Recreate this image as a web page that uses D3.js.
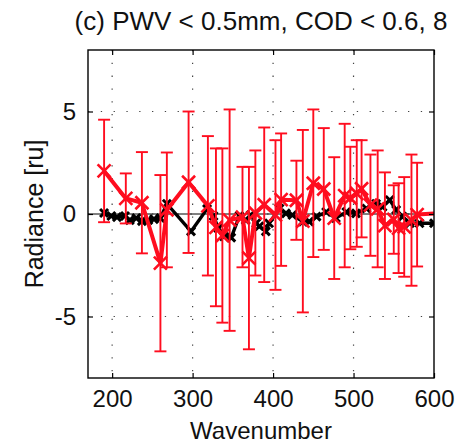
<!DOCTYPE html>
<html><head><meta charset="utf-8">
<script src="https://cdn.jsdelivr.net/npm/d3@7"></script>
<style>body{margin:0;background:#fff}</style>
</head><body>
<svg id="chart" width="457" height="445"></svg>
<script>
const titleText = "(c) PWV < 0.5mm, COD < 0.6, 8";
const xLabel = "Wavenumber";
const yLabel = "Radiance [ru]";
const xTicks = [200, 300, 400, 500, 600];
const yTicks = [-5, 0, 5];
const xDomain = [170, 600];
const yDomain = [-8, 8];

// black series (near zero)
const blackWn = [190,199,206,216,222,230,237,245,252,260,268,298,318,326,332,339,348,358,366,372,379,383,391,395,408,416,424,437,445,454,466,478,491,503,516,528,536,545,553,561,570,582,600];
const blackVal = [0.05,-0.1,-0.15,-0.1,-0.3,-0.2,-0.35,-0.3,-0.25,-0.2,0.5,-0.85,0.25,-0.1,-0.7,-1.1,-1.15,-0.1,-0.3,-0.05,-0.45,-0.6,-0.85,-0.45,0.27,0.03,-0.05,-0.37,-0.37,-0.13,0.1,-0.2,0.1,0.03,0.27,0.5,0.35,0.68,0.2,-0.13,-0.45,-0.45,-0.45];

// red series with error bars
const redWn  = [190,217,237,260,268,295,319,329,337,346,362,370,378,389,403,410,429,437,450,463,476,489,496,504,510,521,530,539,550,556,563,572,579,600];
const redVal = [2.1,0.76,0.55,-2.4,0.2,1.55,0.4,-0.65,-1.05,-0.3,-0.15,-2.15,0.05,0.45,-0.05,0.7,0.67,-0.35,1.5,1.22,-0.2,0.9,0.78,1.0,1.23,0.43,0.25,-0.57,-0.27,-0.69,-0.63,-0.3,-0.03,0.03];
const redErr = [2.5,1.22,2.47,4.3,2.8,3.45,3.4,3.85,4.25,5.4,2.45,4.45,3.05,3.77,3.65,3.23,1.93,4.45,3.6,2.97,2.97,3.5,2.5,2.6,2.37,2.47,2.85,2.6,1.67,2.19,2.43,3.2,2.53,null];

const svg = d3.select("#chart");
const L = 88, R = 434, T = 50, B = 378;
const x = d3.scaleLinear().domain(xDomain).range([L, R]);
const y = d3.scaleLinear().domain(yDomain).range([B, T]);
const font = "'Liberation Sans', Arial, Helvetica, sans-serif";

svg.append("rect").attr("width",457).attr("height",445).attr("fill","#fff");

svg.append("defs").append("clipPath").attr("id","clip")
  .append("rect").attr("x",L).attr("y",T).attr("width",R-L).attr("height",B-T);

// grid
const grid = svg.append("g").attr("stroke","#444").attr("stroke-width",1.2)
  .attr("stroke-dasharray","1.3,11.5");
grid.selectAll(".gx").data(xTicks.filter(d=>d>xDomain[0] && d<xDomain[1])).join("line")
  .attr("x1",d=>x(d)).attr("x2",d=>x(d)).attr("y1",T).attr("y2",B);
grid.selectAll(".gy").data(yTicks).join("line")
  .attr("y1",d=>y(d)).attr("y2",d=>y(d)).attr("x1",L).attr("x2",R);

// zero line
svg.append("line").attr("x1",x(xDomain[0])).attr("x2",x(xDomain[1]))
  .attr("y1",y(0)).attr("y2",y(0)).attr("stroke","#000").attr("stroke-width",1);

const plot = svg.append("g").attr("clip-path","url(#clip)");

function xMark(g, data, size, color, sw){
  g.selectAll(null).data(data).join("path")
   .attr("d", d=>`M${-size},${-size}L${size},${size}M${-size},${size}L${size},${-size}`)
   .attr("transform", d=>`translate(${x(d.wn)},${y(d.v)})`)
   .attr("stroke",color).attr("stroke-width",sw).attr("fill","none");
}

// black series
const black = blackWn.map((wn,i)=>({wn, v:blackVal[i]}));
const line = d3.line().x(d=>x(d.wn)).y(d=>y(d.v));
plot.append("path").datum(black).attr("d",line).attr("fill","none")
  .attr("stroke","#000").attr("stroke-width",3.4).attr("stroke-linejoin","round");
xMark(plot.append("g"), black, 4, "#000", 3);

// red series
const red = redWn.map((wn,i)=>({wn, v:redVal[i], e:redErr[i]}));
const eb = plot.append("g").attr("stroke","#ff0d1f").attr("stroke-width",1.9);
const withErr = red.filter(d=>d.e!=null);
eb.selectAll(".v").data(withErr).join("line")
  .attr("x1",d=>x(d.wn)).attr("x2",d=>x(d.wn))
  .attr("y1",d=>y(d.v-d.e)).attr("y2",d=>y(d.v+d.e));
eb.selectAll(".t").data(withErr).join("line")
  .attr("x1",d=>x(d.wn)-6).attr("x2",d=>x(d.wn)+6)
  .attr("y1",d=>y(d.v+d.e)).attr("y2",d=>y(d.v+d.e));
eb.selectAll(".b").data(withErr).join("line")
  .attr("x1",d=>x(d.wn)-6).attr("x2",d=>x(d.wn)+6)
  .attr("y1",d=>y(d.v-d.e)).attr("y2",d=>y(d.v-d.e));
plot.append("path").datum(red).attr("d",line).attr("fill","none")
  .attr("stroke","#ff0d1f").attr("stroke-width",4).attr("stroke-linejoin","round");
xMark(plot.append("g"), withErr, 6.5, "#ff0d1f", 2.6);

// box
svg.append("rect").attr("x",L).attr("y",T).attr("width",R-L).attr("height",B-T)
  .attr("fill","none").attr("stroke","#000").attr("stroke-width",1.4);

// axes
const ax = svg.append("g").attr("transform",`translate(0,${B})`)
  .call(d3.axisBottom(x).tickValues(xTicks).tickFormat(d3.format("d")).tickSizeInner(-5).tickSizeOuter(0).tickPadding(12));
const axT = svg.append("g").attr("transform",`translate(0,${T})`)
  .call(d3.axisTop(x).tickValues(xTicks).tickFormat("").tickSizeInner(-5).tickSizeOuter(0));
const ay = svg.append("g").attr("transform",`translate(${L},0)`)
  .call(d3.axisLeft(y).tickValues(yTicks).tickFormat(d=>d<0?"-"+Math.abs(d):String(d)).tickSizeInner(-5).tickSizeOuter(0).tickPadding(12));
const ayR = svg.append("g").attr("transform",`translate(${R},0)`)
  .call(d3.axisRight(y).tickValues(yTicks).tickFormat("").tickSizeInner(-5).tickSizeOuter(0));
[ax,axT,ay,ayR].forEach(g=>{
  g.select(".domain").remove();
  g.selectAll(".tick line").attr("stroke","#000").attr("stroke-width",1.2);
  g.selectAll("text").attr("font-family",font).attr("font-size",24).attr("fill","#111");
});
ax.selectAll("text").attr("dy","0.71em");

// labels
svg.append("text").attr("x",(L+R)/2).attr("y",30).attr("text-anchor","middle")
  .attr("font-family",font).attr("font-size",26).attr("fill","#111").text(titleText);
svg.append("text").attr("x",(L+R)/2).attr("y",439).attr("text-anchor","middle")
  .attr("font-family",font).attr("font-size",24).attr("fill","#111").text(xLabel);
svg.append("text").attr("transform",`translate(43,${(T+B)/2}) rotate(-90)`).attr("text-anchor","middle")
  .attr("font-family",font).attr("font-size",25).attr("fill","#111").text(yLabel);
</script>
</body></html>
